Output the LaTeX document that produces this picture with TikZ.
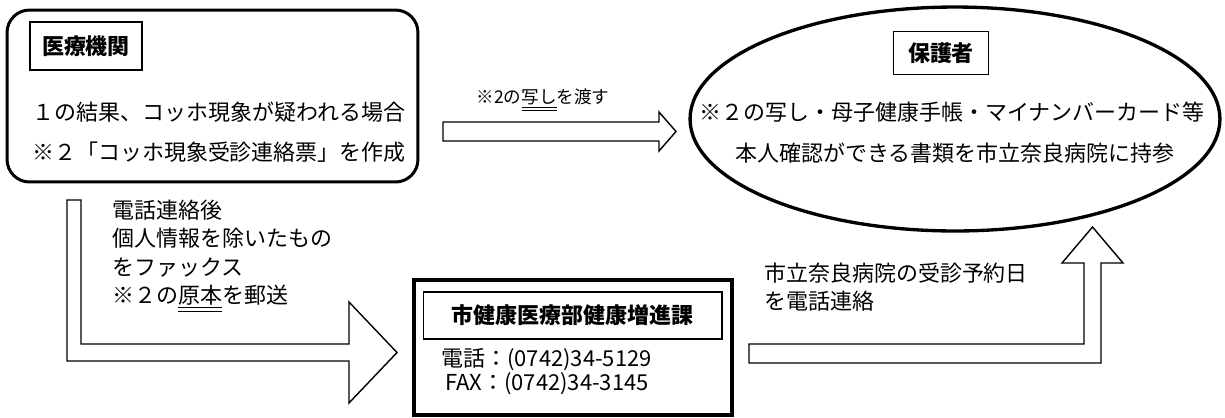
\documentclass[tikz,border=0pt]{standalone}
\usepackage{fontspec}
\setmainfont{Noto Sans CJK JP}
\usepackage{tikz}
\usetikzlibrary{shapes.geometric, positioning}
\tikzstyle{roundbox} = [rectangle, rounded corners=0.45cm, draw, line width=1.7pt, inner sep=0pt]
\tikzstyle{titlebox} = [rectangle, draw, line width=0.6pt, inner sep=0pt, font=\fontsize{12.5}{15}\selectfont\bfseries]
\tikzstyle{guardian} = [ellipse, draw, line width=1.9pt, inner sep=0pt]
\tikzstyle{officebox} = [rectangle, draw, line width=2.2pt, inner sep=0pt]
\tikzstyle{body} = [inner sep=0pt, font=\fontsize{12.5}{16.2}\selectfont, align=left]
\tikzstyle{small} = [inner sep=0pt, font=\fontsize{10}{12}\selectfont]
\tikzstyle{blockarrow} = [draw, thick, line join=miter, fill=white]

\begin{document}
\begin{tikzpicture}[x=0.02cm, y=-0.02cm]
\useasboundingbox (0,0) rectangle (1225,417);

% 医療機関
\node (clinic) [roundbox, minimum width=8.22cm, minimum height=3.44cm] at (212.5,96) {};
\node (clinictitle) [titlebox, minimum width=2.24cm, minimum height=0.96cm] at (86,46) {医療機関};
\node (clinicline1) [body] at (219,112) {１の結果、コッホ現象が疑われる場合};
\node (clinicline2) [body] at (219,152) {※２「コッホ現象受診連絡票」を作成};

% 保護者
\node (parent) [guardian, minimum width=10.6cm, minimum height=4.48cm] at (955,119) {};
\node (parenttitle) [titlebox, minimum width=1.9cm, minimum height=0.86cm] at (941,53) {保護者};
\node (parentline1) [body] at (952,112) {※２の写し・母子健康手帳・マイナンバーカード等};
\node (parentline2) [body] at (955,153) {本人確認ができる書類を市立奈良病院に持参};

% 市健康医療部健康増進課
\node (office) [officebox, minimum width=6.36cm, minimum height=2.7cm] at (573,347.5) {};
\node (officetitle) [titlebox, minimum width=5.98cm, minimum height=0.94cm] at (572.5,315.5) {市健康医療部健康増進課};
\node (tel) [body, anchor=east] at (652,360) {電話：(0742)34-5129};
\node (fax) [body, anchor=east] at (649,384) {FAX：(0742)34-3145};

% 矢印
\draw [blockarrow] (443,122) -- (659,122) -- (659,112) -- (676,131.5) -- (659,151) -- (659,141) -- (443,141) -- cycle;
\draw [blockarrow] (67,200) -- (67,361) -- (349,361) -- (349,403) -- (397,352.5) -- (349,302) -- (349,344) -- (81,344) -- (81,200) -- cycle;
\draw [blockarrow] (749,344) -- (1084,344) -- (1084,263) -- (1062,263) -- (1092.5,227) -- (1123,263) -- (1101,263) -- (1101,363) -- (749,363) -- cycle;

% 矢印のラベル
\node (copylabel) [small] at (543,100) {※2の\underline{\underline{写し}}を渡す};
\node (faxlabel) [body, anchor=west] at (112,256) {電話連絡後\\個人情報を除いたもの\\をファックス\\※２の\underline{\underline{原本}}を郵送};
\node (calllabel) [body, anchor=west] at (764,287) {市立奈良病院の受診予約日\\を電話連絡};

\end{tikzpicture}
\end{document}
